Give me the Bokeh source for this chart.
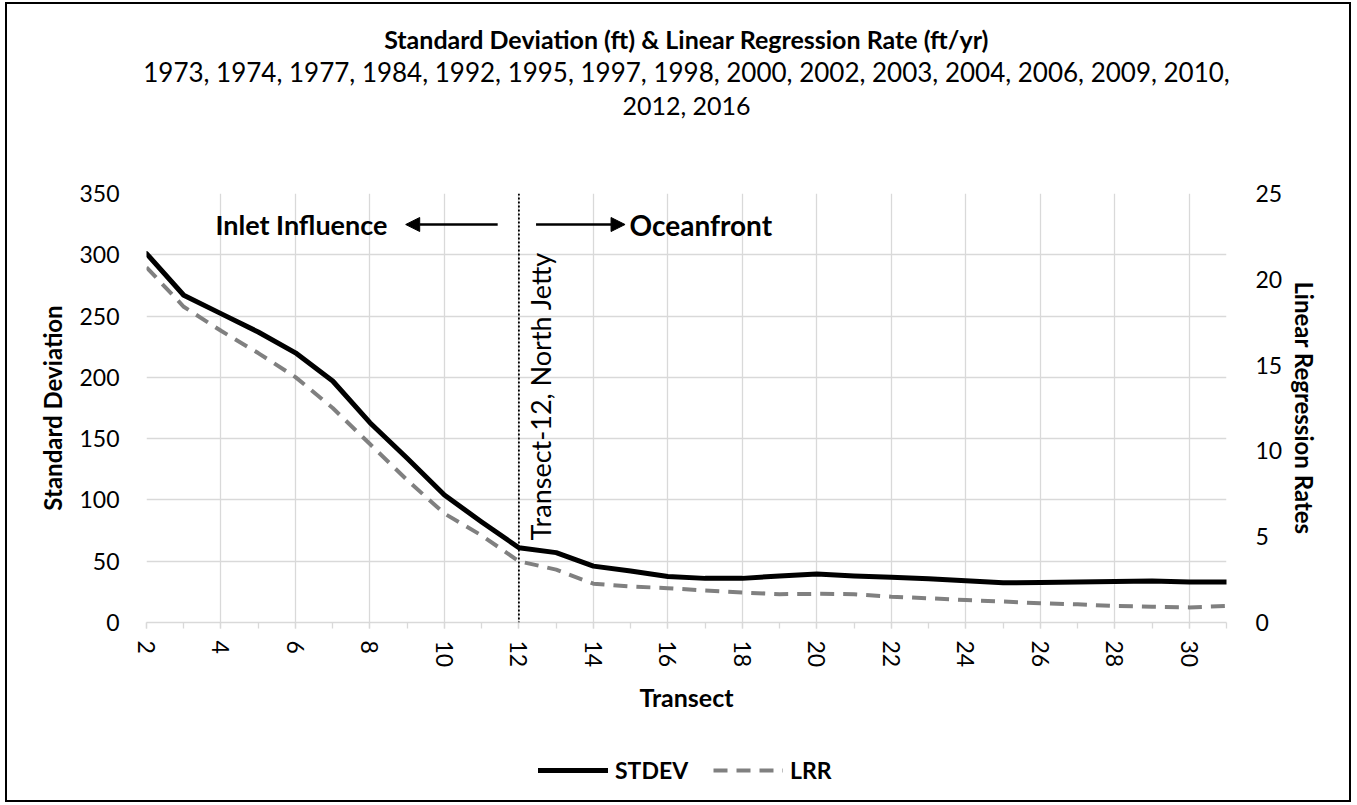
import math
from bokeh.plotting import figure
from bokeh.layouts import column
from bokeh.models import (Range1d, LinearAxis, Span, Label, Title, Legend, LegendItem,
                          SingleIntervalTicker, Arrow, NormalHead)
from bokeh.embed import file_html
from bokeh.resources import INLINE

# ---------------- data ----------------
transect = list(range(2, 32))
stdev = [301, 267, 252, 237, 220, 197, 163, 134, 104, 82,
         61, 57, 46, 42, 37.6, 36, 36, 38, 39.5, 38,
         37, 35.7, 34, 32.4, 32.7, 33, 33.5, 33.8, 33, 33]
lrr = [20.7, 18.4, 17.0, 15.7, 14.3, 12.5, 10.4, 8.3, 6.35, 5.07,
       3.57, 3.08, 2.26, 2.1, 2.0, 1.86, 1.75, 1.65, 1.67, 1.65,
       1.5, 1.41, 1.31, 1.22, 1.12, 1.06, 0.96, 0.92, 0.88, 0.96]
series_names = ["STDEV", "LRR"]

title1 = "Standard Deviation (ft) & Linear Regression Rate (ft/yr)"
title2 = "1973, 1974, 1977, 1984, 1992, 1995, 1997, 1998, 2000, 2002, 2003, 2004, 2006, 2009, 2010,"
title3 = "2012, 2016"
jetty_transect = 12
FONT = "Lato"

STDEV_STYLE = dict(line_color="black", line_width=5, line_join="round", line_cap="round")
LRR_STYLE = dict(line_color="#808080", line_width=4, line_dash="14 9", line_join="round")

# ---------------- main figure ----------------
p = figure(frame_width=1080, frame_height=429, x_range=Range1d(2, 31), y_range=Range1d(0, 350),
           output_backend="svg", toolbar_location=None,
           min_border_left=139, min_border_right=123, min_border_top=189, min_border_bottom=100)
p.extra_y_ranges = {"lrr": Range1d(0, 25)}
p.outline_line_color = None
p.background_fill_color = "white"

p.title.text = title1
p.title.align = "center"
p.title.offset = -12
p.title.text_font = FONT
p.title.text_font_size = "25px"
p.title.text_font_style = "bold"
p.title.text_color = "black"
p.title.standoff = 0

spacer = Title(text=" ", align="center", text_font=FONT, text_font_size="60px", standoff=0)
t3 = Title(text=title3, align="center", offset=-12, text_font=FONT, text_font_size="25px",
           text_font_style="normal", text_color="black", standoff=0)
t2 = Title(text=title2, align="center", offset=-12, text_font=FONT, text_font_size="26px",
           text_font_style="normal", text_color="black", standoff=0)
p.add_layout(spacer, "above")
p.add_layout(t3, "above")
p.add_layout(t2, "above")

# grid
p.xgrid.grid_line_color = "#d9d9d9"
p.ygrid.grid_line_color = "#d9d9d9"
p.xgrid.grid_line_width = 1.3
p.ygrid.grid_line_width = 1.3

# x axis
xa = p.xaxis[0]
xa.ticker = SingleIntervalTicker(interval=2, num_minor_ticks=2)
xa.major_label_orientation = "vertical"
xa.axis_label = "Transect"
xa.axis_label_text_font = FONT
xa.axis_label_text_font_size = "25px"
xa.axis_label_text_font_style = "bold"
xa.axis_label_text_color = "black"
xa.axis_label_standoff = 12
xa.major_label_text_font = FONT
xa.major_label_text_font_size = "23px"
xa.major_label_text_color = "black"
xa.major_label_standoff = 12
xa.axis_line_color = "#d9d9d9"
xa.axis_line_width = 1.3
xa.major_tick_line_color = "#d9d9d9"
xa.minor_tick_line_color = "#d9d9d9"
xa.major_tick_line_width = 1.3
xa.minor_tick_line_width = 1.3
xa.major_tick_in = 0
xa.major_tick_out = 6
xa.minor_tick_in = 0
xa.minor_tick_out = 6

# left axis
ya = p.yaxis[0]
ya.ticker = SingleIntervalTicker(interval=50)
ya.axis_label = "Standard Deviation"
ya.axis_label_text_font = FONT
ya.axis_label_text_font_size = "24px"
ya.axis_label_text_font_style = "bold"
ya.axis_label_text_color = "black"
ya.axis_label_standoff = 9
ya.major_label_text_font = FONT
ya.major_label_text_font_size = "23px"
ya.major_label_text_color = "black"
ya.major_label_standoff = 21
ya.axis_line_color = None
ya.major_tick_line_color = None
ya.minor_tick_line_color = None

# right axis
ra = LinearAxis(y_range_name="lrr", ticker=SingleIntervalTicker(interval=5))
ra.axis_label = "Linear Regression Rates"
ra.axis_label_text_font = FONT
ra.axis_label_text_font_size = "24px"
ra.axis_label_text_font_style = "bold"
ra.axis_label_text_color = "black"
ra.axis_label_standoff = 5
ra.major_label_text_font = FONT
ra.major_label_text_font_size = "23px"
ra.major_label_text_color = "black"
ra.major_label_standoff = 23
ra.axis_line_color = None
ra.major_tick_line_color = None
ra.minor_tick_line_color = None
p.add_layout(ra, "right")

# series
r1 = p.line(transect, stdev, **STDEV_STYLE)
r2 = p.line(transect, lrr, y_range_name="lrr", **LRR_STYLE)

# jetty line
p.add_layout(Span(location=jetty_transect, dimension="height", line_color="black",
                  line_width=1.8, line_dash="2 2"))
p.add_layout(Label(x=jetty_transect, y=67, x_offset=5, angle=math.pi / 2, angle_units="rad",
                   text="Transect-12, North Jetty", text_font=FONT,
                   text_font_size="27px", text_align="left", text_baseline="top",
                   text_color="black"))

# region annotations
yann = 324.7
p.add_layout(Label(x=8.47, y=yann, text="Inlet Influence", text_font=FONT,
                   text_font_size="27px", text_font_style="bold", text_align="right",
                   text_baseline="middle", text_color="black"))
p.add_layout(Label(x=14.97, y=yann, text="Oceanfront", text_font=FONT,
                   text_font_size="28px", text_font_style="bold", text_align="left",
                   text_baseline="middle", text_color="black"))
p.add_layout(Arrow(end=NormalHead(size=14, fill_color="black", line_color="black"),
                   x_start=11.43, y_start=yann, x_end=8.96, y_end=yann,
                   line_width=2.5, line_color="black"))
p.add_layout(Arrow(end=NormalHead(size=14, fill_color="black", line_color="black"),
                   x_start=12.46, y_start=yann, x_end=14.85, y_end=yann,
                   line_width=2.5, line_color="black"))

# ---------------- legend strip ----------------
# a thin figure below the chart; its ranges keep the proxy series out of view,
# so only the legend shows
pl = figure(width=1342, height=78, x_range=Range1d(-2, -1), y_range=Range1d(-2, -1),
            output_backend="svg", toolbar_location=None,
            x_axis_type=None, y_axis_type=None,
            min_border_left=0, min_border_right=0, min_border_top=0, min_border_bottom=0)
pl.outline_line_color = None
pl.grid.visible = False
lr1 = pl.line(transect, stdev, **STDEV_STYLE)
lr2 = pl.line(transect, lrr, **LRR_STYLE)
legend = Legend(items=[LegendItem(label=series_names[0], renderers=[lr1]),
                       LegendItem(label=series_names[1], renderers=[lr2])],
                orientation="horizontal", location=(392, 16),
                label_text_font=FONT, label_text_font_size="23px",
                label_text_font_style="bold", label_text_color="black",
                glyph_width=70, glyph_height=20, spacing=25, label_standoff=7,
                padding=0, margin=0,
                border_line_color=None, background_fill_alpha=0)
pl.add_layout(legend, "center")

layout = column(p, pl, spacing=0)
layout.styles = {"border": "2px solid black", "margin-left": "5px", "margin-top": "2px"}

open("out.html", "w").write(file_html(layout, INLINE))
